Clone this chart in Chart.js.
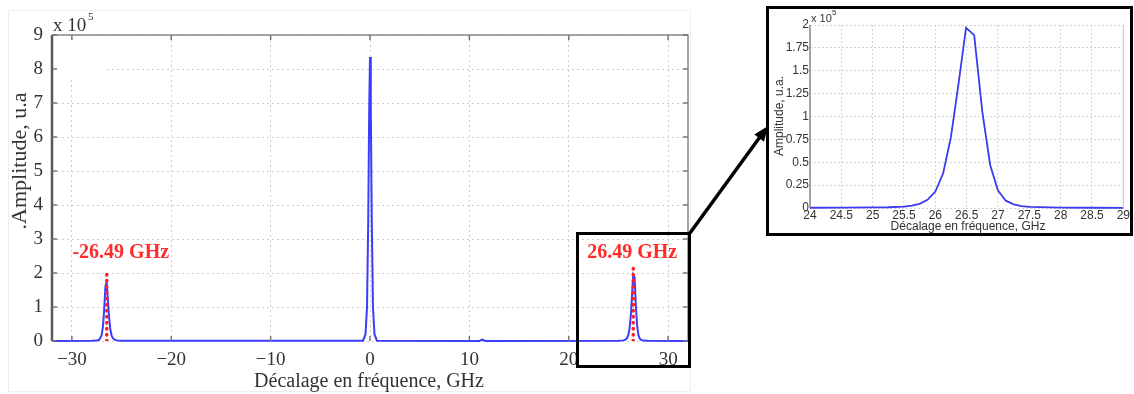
<!DOCTYPE html>
<html>
<head>
<meta charset="utf-8">
<title>Décalage en fréquence</title>
<script src="https://cdn.jsdelivr.net/npm/chart.js@4.4.0/dist/chart.umd.min.js"></script>
<style>
    html, body { margin: 0; padding: 0; background: #fff; }
    body { width: 1134px; height: 394px; position: relative; overflow: hidden; }
    #mainChart { position: absolute; left: 0; top: 0; }
    #insetBox { position: absolute; left: 766px; top: 6px; width: 367px; height: 230px;
                box-sizing: border-box; border: 3px solid #000; background: #fff; }
    #insetChart { position: absolute; left: 0; top: 0; }
</style>
</head>
<body>
<canvas id="mainChart" width="1134" height="394"></canvas>
<div id="insetBox"><canvas id="insetChart" width="361" height="224"></canvas></div>

<script>
// Main spectrum, amplitude in units of 1e5
const mainFreq = [-32,
    -28, -27.5, -27.25, -27.0, -26.875, -26.75, -26.62, -26.49, -26.375, -26.25, -26.125, -26.0, -25.875, -25.75, -25.5, -25.0,
    -0.7, -0.45, -0.3, -0.18, -0.08, 0, 0.08, 0.18, 0.3, 0.45, 0.7,
    11.0, 11.3, 11.6,
    25.0, 25.5, 25.75, 25.875, 26.0, 26.125, 26.25, 26.375, 26.49, 26.62, 26.75, 26.875, 27.0, 27.125, 27.25, 27.5, 28.0,
    32];
const mainAmp = [0.002,
    0.004, 0.012, 0.035, 0.17, 0.42, 0.92, 1.62, 1.72, 1.22, 0.68, 0.33, 0.16, 0.08, 0.045, 0.018, 0.005,
    0.01, 0.2, 1.0, 3.5, 6.8, 8.35, 6.8, 3.5, 1.0, 0.2, 0.01,
    0, 0.04, 0,
    0.005, 0.018, 0.045, 0.09, 0.18, 0.38, 0.78, 1.38, 1.95, 1.88, 1.05, 0.47, 0.19, 0.08, 0.04, 0.012, 0.004,
    0.002];

// Marked peaks (red dotted stems)
const peakFreq = [-26.49, 26.49];
const stemTop = [2.0, 2.2];
const peakLabels = ['-26.49 GHz', '26.49 GHz'];

// Zoomed view around +26.49 GHz
const insetFreq = [24, 24.5, 25, 25.25, 25.5, 25.625, 25.75, 25.875, 26.0, 26.125, 26.25, 26.375,
    26.49, 26.62, 26.75, 26.875, 27.0, 27.125, 27.25, 27.375, 27.5, 28, 28.5, 29];
const insetAmp = [0.003, 0.004, 0.006, 0.008, 0.015, 0.025, 0.045, 0.09, 0.18, 0.38, 0.78, 1.38,
    1.97, 1.89, 1.05, 0.47, 0.19, 0.08, 0.04, 0.02, 0.012, 0.005, 0.003, 0.002];

// Tick labels
const mainXTicks = [-30, -20, -10, 0, 10, 20, 30];
const mainYTicks = [0, 1, 2, 3, 4, 5, 6, 7, 8, 9];
const insetXTicks = [24, 24.5, 25, 25.5, 26, 26.5, 27, 27.5, 28, 28.5, 29];
const insetYTicks = [0, 0.25, 0.5, 0.75, 1, 1.25, 1.5, 1.75, 2];

const SERIF = '"Liberation Serif", "Times New Roman", serif';
const SANS = '"Liberation Sans", Arial, sans-serif';

function toPoints(xs, ys) {
    return xs.map((x, i) => ({ x: x, y: ys[i] }));
}

// Drawing helpers for the main figure
const mainDecor = {
    id: 'mainDecor',
    beforeDatasetsDraw(chart) {
        const ctx = chart.ctx;
        // blank patch left over in the top-left corner of the original figure
        ctx.save();
        ctx.fillStyle = '#fff';
        ctx.fillRect(55, 38, 50, 42);
        ctx.restore();
    },
    afterDraw(chart) {
        const ctx = chart.ctx;
        const a = chart.chartArea;
        const xs = chart.scales.x;
        const ys = chart.scales.y;
        ctx.save();

        // faint outline of the original image
        ctx.strokeStyle = '#eeeeee';
        ctx.lineWidth = 1;
        ctx.strokeRect(8.5, 10.5, 682, 381);

        // frame
        ctx.strokeStyle = '#888';
        ctx.lineWidth = 1.5;
        ctx.beginPath();
        ctx.moveTo(a.left, a.top);
        ctx.lineTo(a.right, a.top);
        ctx.lineTo(a.right, a.bottom);
        ctx.stroke();
        ctx.strokeStyle = '#5a5a5a';
        ctx.lineWidth = 2.5;
        ctx.beginPath();
        ctx.moveTo(a.left, a.top);
        ctx.lineTo(a.left, a.bottom);
        ctx.stroke();

        // inward ticks
        ctx.strokeStyle = '#777';
        ctx.lineWidth = 1.5;
        ctx.beginPath();
        mainYTicks.forEach(v => {
            const y = ys.getPixelForValue(v);
            ctx.moveTo(a.left, y); ctx.lineTo(a.left + 5, y);
            ctx.moveTo(a.right, y); ctx.lineTo(a.right - 5, y);
        });
        mainXTicks.forEach(v => {
            const x = xs.getPixelForValue(v);
            ctx.moveTo(x, a.top); ctx.lineTo(x, a.top + 5);
            ctx.moveTo(x, a.bottom); ctx.lineTo(x, a.bottom - 5);
        });
        ctx.stroke();

        // axis titles
        ctx.fillStyle = '#333';
        ctx.textAlign = 'center';
        ctx.textBaseline = 'middle';
        ctx.font = '20px ' + SERIF;
        ctx.fillText('Décalage en fréquence, GHz', 369, 382);
        ctx.save();
        ctx.translate(20, 161);
        ctx.rotate(-Math.PI / 2);
        ctx.font = '22px ' + SERIF;
        ctx.fillText('.Amplitude, u.a', 0, 0);
        ctx.restore();

        // exponent
        ctx.textAlign = 'left';
        ctx.textBaseline = 'alphabetic';
        ctx.font = '19px ' + SERIF;
        ctx.fillText('x 10', 53, 31);
        ctx.font = '11px ' + SERIF;
        ctx.fillText('5', 88, 20);

        // peak labels
        ctx.fillStyle = '#ff2b2b';
        ctx.font = 'bold 20px ' + SERIF;
        ctx.textAlign = 'center';
        ctx.textBaseline = 'middle';
        const labelShift = [14, -1];
        peakFreq.forEach((f, i) => {
            ctx.fillText(peakLabels[i], xs.getPixelForValue(f) + labelShift[i], ys.getPixelForValue(2.6));
        });

        // zoom box around the right peak
        ctx.strokeStyle = '#000';
        ctx.lineWidth = 3;
        ctx.strokeRect(577.5, 233.5, 112, 133);

        // arrow to the inset
        const x0 = 690, y0 = 233, x1 = 768, y1 = 126;
        const ang = Math.atan2(y1 - y0, x1 - x0);
        ctx.lineWidth = 3.5;
        ctx.beginPath();
        ctx.moveTo(x0, y0);
        ctx.lineTo(x1 - 10 * Math.cos(ang), y1 - 10 * Math.sin(ang));
        ctx.stroke();
        ctx.fillStyle = '#000';
        ctx.beginPath();
        ctx.moveTo(x1, y1);
        ctx.lineTo(x1 - 15 * Math.cos(ang) + 6 * Math.sin(ang), y1 - 15 * Math.sin(ang) - 6 * Math.cos(ang));
        ctx.lineTo(x1 - 15 * Math.cos(ang) - 6 * Math.sin(ang), y1 - 15 * Math.sin(ang) + 6 * Math.cos(ang));
        ctx.closePath();
        ctx.fill();

        ctx.restore();
    }
};

const insetDecor = {
    id: 'insetDecor',
    afterDraw(chart) {
        const ctx = chart.ctx;
        const a = chart.chartArea;
        ctx.save();
        ctx.strokeStyle = '#c8c8c8';
        ctx.lineWidth = 1;
        ctx.beginPath();
        ctx.moveTo(a.right, a.top);
        ctx.lineTo(a.right, a.bottom);
        ctx.stroke();
        ctx.strokeStyle = '#888';
        ctx.lineWidth = 1.5;
        ctx.beginPath();
        ctx.moveTo(a.left, a.top);
        ctx.lineTo(a.left, a.bottom);
        ctx.stroke();

        ctx.fillStyle = '#333';
        ctx.textAlign = 'center';
        ctx.textBaseline = 'middle';
        ctx.font = '12px ' + SANS;
        ctx.fillText('Décalage en fréquence, GHz', 199, 218);
        ctx.save();
        ctx.translate(11, 107);
        ctx.rotate(-Math.PI / 2);
        ctx.fillText('Amplitude, u.a.', 0, 0);
        ctx.restore();

        ctx.textAlign = 'left';
        ctx.textBaseline = 'alphabetic';
        ctx.font = '11px ' + SANS;
        ctx.fillText('x 10', 42, 13);
        ctx.font = '8px ' + SANS;
        ctx.fillText('5', 63, 6);
        ctx.restore();
    }
};

window.onload = function() {
    // Main spectrum
    const stemSets = peakFreq.map((f, i) => ({
        data: [{ x: f, y: 0 }, { x: f, y: stemTop[i] }],
        borderColor: '#ff2020',
        borderWidth: 3.5,
        borderDash: [0.5, 5.5],
        borderCapStyle: 'round',
        pointRadius: 0,
        showLine: true,
        order: 0
    }));

    new Chart(document.getElementById('mainChart').getContext('2d'), {
        type: 'scatter',
        data: {
            datasets: [
                {
                    data: toPoints(mainFreq, mainAmp),
                    borderColor: '#3c3cff',
                    borderWidth: 2,
                    pointRadius: 0,
                    showLine: true,
                    tension: 0,
                    clip: false,
                    order: 1
                }
            ].concat(stemSets)
        },
        options: {
            responsive: false,
            animation: false,
            layout: { padding: { left: 0, top: 35, right: 446, bottom: 0 } },
            plugins: { legend: { display: false }, tooltip: { enabled: false } },
            scales: {
                x: {
                    type: 'linear',
                    min: -32,
                    max: 32,
                    afterBuildTicks: s => { s.ticks = mainXTicks.map(v => ({ value: v })); },
                    afterFit: s => { s.height = 53; },
                    grid: { color: '#cdcdcd', lineWidth: 1, drawTicks: false },
                    border: { display: false, dash: [2, 3] },
                    ticks: {
                        padding: 8,
                        color: '#333',
                        font: { family: SERIF, size: 19 },
                        maxRotation: 0,
                        callback: v => v < 0 ? '\u2212' + Math.abs(v) : String(v)
                    }
                },
                y: {
                    min: 0,
                    max: 9,
                    afterBuildTicks: s => { s.ticks = mainYTicks.map(v => ({ value: v })); },
                    afterFit: s => { s.width = 52; },
                    grid: { color: '#cdcdcd', lineWidth: 1, drawTicks: false },
                    border: { display: false, dash: [2, 3] },
                    ticks: {
                        padding: 9,
                        color: '#333',
                        font: { family: SERIF, size: 19 },
                        callback: v => String(v)
                    }
                }
            }
        },
        plugins: [mainDecor]
    });

    // Inset: zoom on the +26.49 GHz line
    new Chart(document.getElementById('insetChart').getContext('2d'), {
        type: 'scatter',
        data: {
            datasets: [{
                data: toPoints(insetFreq, insetAmp),
                borderColor: '#3a3af0',
                borderWidth: 1.8,
                pointRadius: 0,
                showLine: true,
                tension: 0,
                clip: false
            }]
        },
        options: {
            responsive: false,
            animation: false,
            layout: { padding: { left: 0, top: 16, right: 3, bottom: 0 } },
            plugins: { legend: { display: false }, tooltip: { enabled: false } },
            scales: {
                x: {
                    type: 'linear',
                    min: 24,
                    max: 29,
                    afterBuildTicks: s => { s.ticks = insetXTicks.map(v => ({ value: v })); },
                    afterFit: s => { s.height = 25; },
                    grid: { color: '#d6d6d6', lineWidth: 1, drawTicks: false },
                    border: { display: false, dash: [2, 2] },
                    ticks: {
                        padding: 0,
                        color: '#333',
                        font: { family: SANS, size: 12 },
                        maxRotation: 0,
                        autoSkip: false,
                        callback: v => String(v)
                    }
                },
                y: {
                    min: 0,
                    max: 2,
                    afterBuildTicks: s => { s.ticks = insetYTicks.map(v => ({ value: v })); },
                    afterFit: s => { s.width = 41; },
                    grid: { color: '#d6d6d6', lineWidth: 1, drawTicks: false },
                    border: { display: false, dash: [2, 2] },
                    ticks: {
                        padding: 1,
                        color: '#333',
                        font: { family: SANS, size: 12 },
                        callback: v => String(v)
                    }
                }
            }
        },
        plugins: [insetDecor]
    });
};
</script>
</body>
</html>
